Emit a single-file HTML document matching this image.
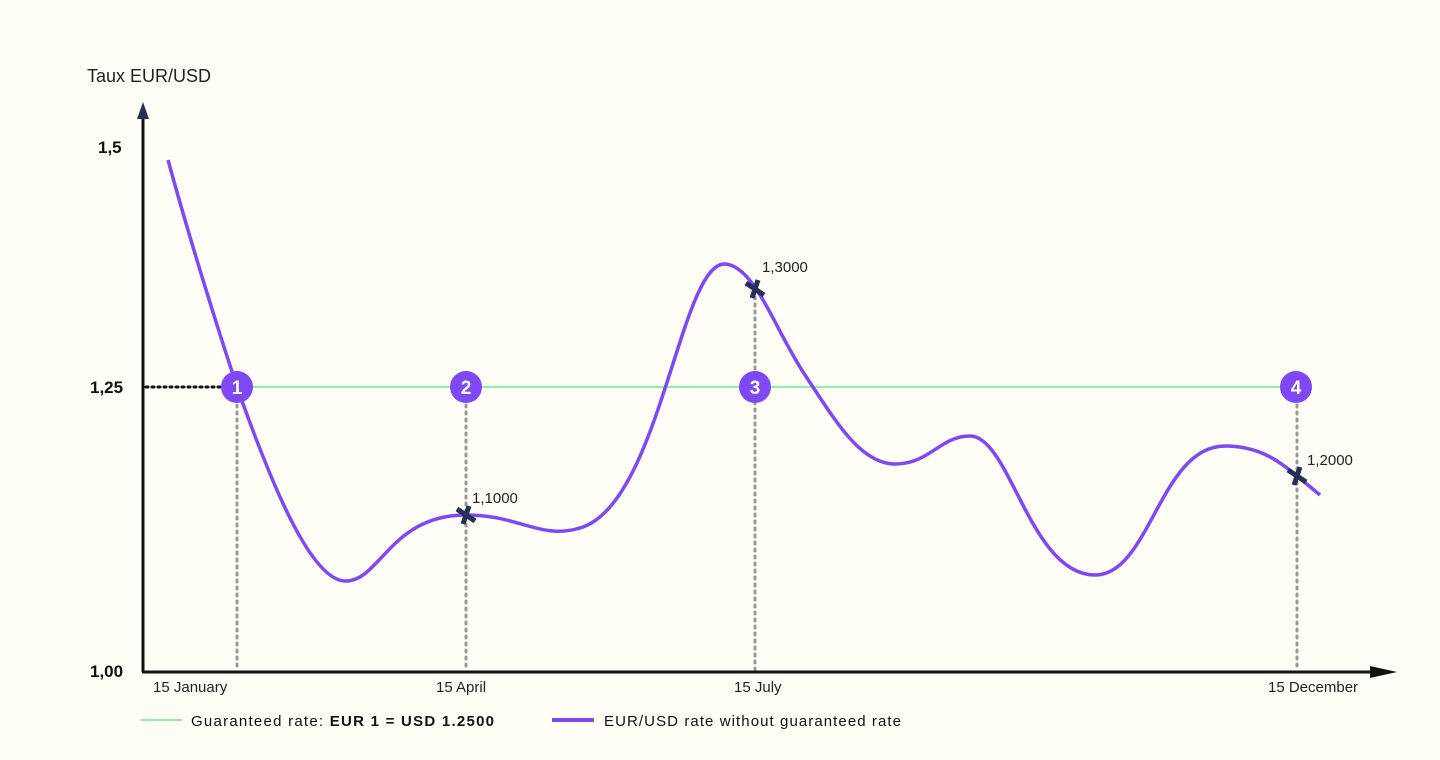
<!DOCTYPE html>
<html><head><style>
body{margin:0;background:#fefdf6;}
svg{display:block;font-family:"Liberation Sans",sans-serif;}
</style></head><body>
<svg width="1440" height="760" viewBox="0 0 1440 760">
<rect width="1440" height="760" fill="#fefdf6"/>
<text x="87" y="82" font-size="18" fill="#222">Taux EUR/USD</text>
<text x="98" y="153" font-size="17" font-weight="bold" fill="#111">1,5</text>
<text x="90" y="393" font-size="17" font-weight="bold" fill="#111">1,25</text>
<text x="90" y="677" font-size="17" font-weight="bold" fill="#111">1,00</text>
<g stroke="#999" stroke-width="3" stroke-dasharray="2,5" stroke-linecap="round">
<line x1="237" y1="405" x2="237" y2="670"/>
<line x1="466" y1="405" x2="466" y2="670"/>
<line x1="755" y1="290" x2="755" y2="670"/>
<line x1="1297" y1="405" x2="1297" y2="670"/>
</g>
<line x1="146" y1="387" x2="222" y2="387" stroke="#111" stroke-width="3" stroke-dasharray="2,4" stroke-linecap="round"/>
<line x1="237" y1="387" x2="1297" y2="387" stroke="#8ef0a6" stroke-width="2"/>
<line x1="143" y1="672" x2="143" y2="115" stroke="#111" stroke-width="3"/>
<polygon points="143,102 137,119 149,119" fill="#23305a"/>
<line x1="142" y1="672" x2="1375" y2="672" stroke="#111" stroke-width="3"/>
<polygon points="1397,672 1370,666 1370,678" fill="#111"/>
<path d="M168,160 C190,240 215,320 237,387 C270,480 310,580 345,581 C380,582 390,515 466,515 C520,515 540,540 580,528 C660,505 680,262 725,264 C755,266 775,330 805,375 C835,420 860,464 895,464 C930,464 940,436 970,436 C1010,436 1030,575 1095,575 C1150,575 1160,446 1225,446 C1260,446 1280,462 1297,476 L1320,495" fill="none" stroke="#8047f5" stroke-width="3.5"/>
<g stroke="#23305a" stroke-width="5" stroke-linecap="butt">
<path d="M457,509 L475,521 M469,506 L463,524"/>
<path d="M746,283 L764,295 M758,280 L752,298"/>
<path d="M1288,470 L1306,482 M1300,467 L1294,485"/>
</g>
<g font-size="15" fill="#222">
<text x="472" y="503">1,1000</text>
<text x="762" y="272">1,3000</text>
<text x="1307" y="465">1,2000</text>
</g>
<g fill="#8047f5">
<circle cx="237" cy="387" r="16"/><circle cx="466" cy="387" r="16"/>
<circle cx="755" cy="387" r="16"/><circle cx="1296" cy="387" r="16"/>
</g>
<g fill="#fff" font-size="19" font-weight="bold" text-anchor="middle">
<text x="237" y="394">1</text><text x="466" y="394">2</text>
<text x="755" y="394">3</text><text x="1296" y="394">4</text>
</g>
<g font-size="15" fill="#222">
<text x="153" y="692">15 January</text>
<text x="436" y="692">15 April</text>
<text x="734" y="692">15 July</text>
<text x="1268" y="692">15 December</text>
</g>
<line x1="141" y1="720" x2="182" y2="720" stroke="#8ef0a6" stroke-width="2"/>
<text x="191" y="726" font-size="15" fill="#111" textLength="303">Guaranteed rate: <tspan font-weight="bold">EUR 1 = USD 1.2500</tspan></text>
<line x1="552" y1="720" x2="594" y2="720" stroke="#8047f5" stroke-width="4"/>
<text x="604" y="726" font-size="15" fill="#111" textLength="297">EUR/USD rate without guaranteed rate</text>
</svg>
</body></html>
